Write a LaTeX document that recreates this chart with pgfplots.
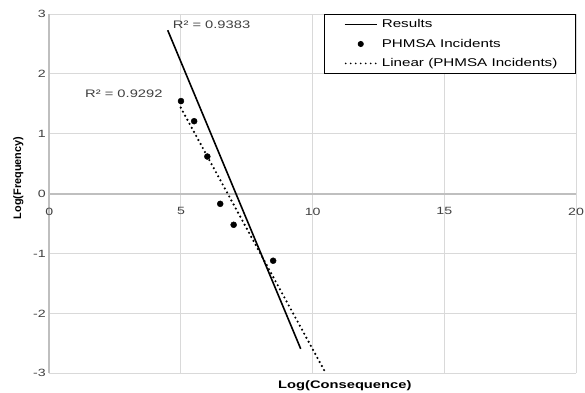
\documentclass[border=0pt]{standalone}
\usepackage{pgfplots}
\pgfplotsset{compat=1.18}
\usepackage{fontspec}
\setmainfont[FakeStretch=1.35]{Liberation Sans}
\newfontfamily\plainfont{Liberation Sans}
\definecolor{gridc}{HTML}{D9D9D9}
\definecolor{axisc}{HTML}{BFBFBF}
\definecolor{txt}{HTML}{404040}
\pgfplotsset{
  lineleg/.style={legend image code/.code={\path[draw=none,fill=none] (-6pt,0pt) rectangle (32.5pt,0pt); \draw[##1] (0pt,0pt)--(32pt,0pt);}},
  markleg/.style={legend image code/.code={\path[draw=none,fill=none] (-6pt,0pt) rectangle (32.5pt,0pt); \draw[##1, mark size=2.6pt] plot coordinates {(16pt,0pt)};}},
  dotleg/.style={legend image code/.code={\path[draw=none,fill=none] (-6pt,0pt) rectangle (32.5pt,0pt); \draw[##1, line width=1.8pt, dash pattern=on 0pt off 5pt] (1pt,0pt)--(32pt,0pt);}},
}
\begin{document}
\begin{tikzpicture}
\useasboundingbox (0,0) rectangle (585pt,392pt);
\begin{axis}[
 scale only axis, width=526.7pt, height=359.3pt,
 at={(49.3pt,18.7pt)}, anchor=south west,
 xmin=0, xmax=20, ymin=-3, ymax=3,
 xtick={0,5,10,15,20}, ytick={-3,-2,-1,0,1,2,3},
 axis x line=middle, axis y line=left,
 axis line style={draw=axisc, line width=1.8pt, -},
 hide obscured x ticks=false, hide obscured y ticks=false,
 major tick length=0pt,
 grid=major, grid style={draw=gridc, line width=1pt},
 /pgf/number format/assume math mode=true,
 ticklabel style={font=\fontsize{10.5}{12}\selectfont, text=txt},
 xticklabel style={anchor=north, yshift=-10.5pt},
 yticklabel style={anchor=east},
 yticklabel shift=0pt,
 xlabel={Log(Consequence)}, ylabel={Log(Frequency)},
 every axis x label/.style={at={(axis description cs:0.561,-0.041)}, anchor=base, font=\fontsize{10.9}{13}\selectfont\bfseries},
 every axis y label/.style={at={(axis description cs:-0.0537,0.5435)}, anchor=base, rotate=90, font=\plainfont\fontsize{10.9}{13}\selectfont\bfseries},
 clip=true,
 legend style={at={(1,1)}, anchor=north east, draw=black, line width=0.8pt, fill=white,
   inner xsep=14pt, inner ysep=0.5pt, row sep=0pt, font=\fontsize{11.25}{13}\selectfont,
   nodes={text height=8.5pt, text depth=2.5pt, inner ysep=4.2pt, inner xsep=4.2pt}},
 legend cell align=left,
]
\addplot[black, line width=1.6pt, lineleg]
  coordinates {(4.496,2.729) (9.546,-2.591)};
\addlegendentry{Results}
\addplot[only marks, mark=*, mark size=3pt, black, markleg]
  coordinates {(5,1.546) (5.5,1.21) (6,0.62) (6.49,-0.17) (7,-0.52) (8.5,-1.12)};
\addlegendentry{PHMSA Incidents}
\addplot[black, line width=2.4pt, line cap=round, dash pattern=on 0pt off 4.6pt, dotleg]
  coordinates {(4.99,1.436) (10.5,-3.0)};
\addlegendentry{Linear (PHMSA Incidents)}
\node[anchor=west, inner sep=0pt, font=\fontsize{10.9}{13}\selectfont, text=txt] at (axis cs:4.686,2.813) {R² = 0.9383};
\node[anchor=west, inner sep=0pt, font=\fontsize{10.9}{13}\selectfont, text=txt] at (axis cs:1.356,1.66) {R² = 0.9292};
\end{axis}
\end{tikzpicture}
\end{document}
